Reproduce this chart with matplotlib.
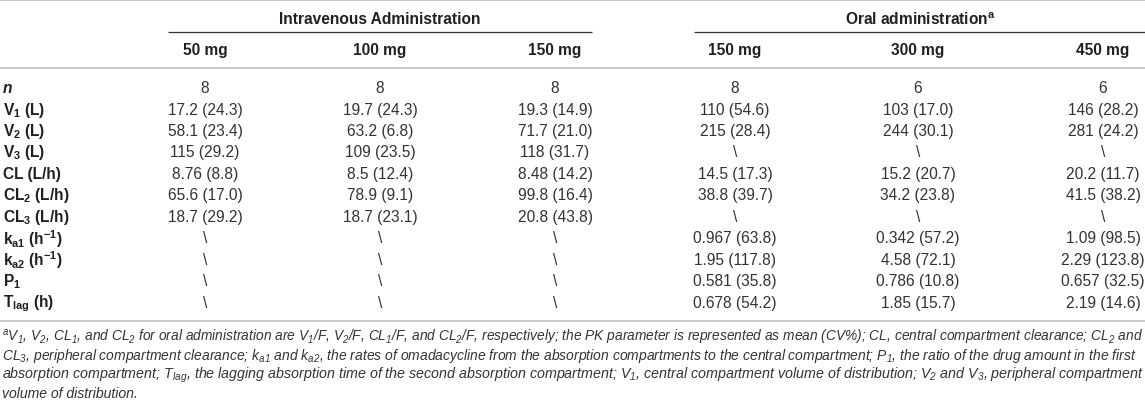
import matplotlib
matplotlib.use("Agg")
import matplotlib.pyplot as plt

plt.rcParams['font.family'] = ['Liberation Sans', 'DejaVu Sans']
plt.rcParams['mathtext.fontset'] = 'custom'
plt.rcParams['mathtext.rm'] = 'Liberation Sans'
plt.rcParams['mathtext.it'] = 'Liberation Sans:italic'
plt.rcParams['mathtext.bf'] = 'Liberation Sans:bold'
plt.rcParams['mathtext.default'] = 'regular'

# ---- data ----
group_titles = ["Intravenous Administration", "Oral administration$^{a}$"]
dose_labels = ["50 mg", "100 mg", "150 mg", "150 mg", "300 mg", "450 mg"]
param_labels = ["n", "V$_1$ (L)", "V$_2$ (L)", "V$_3$ (L)", "CL (L/h)",
                "CL$_2$ (L/h)", "CL$_3$ (L/h)", "k$_{a1}$ (h$^{-1}$)",
                "k$_{a2}$ (h$^{-1}$)", "P$_1$", "T$_{lag}$ (h)"]
NA = "\\"
iv_50 = ["8", "17.2 (24.3)", "58.1 (23.4)", "115 (29.2)", "8.76 (8.8)",
         "65.6 (17.0)", "18.7 (29.2)", NA, NA, NA, NA]
iv_100 = ["8", "19.7 (24.3)", "63.2 (6.8)", "109 (23.5)", "8.5 (12.4)",
          "78.9 (9.1)", "18.7 (23.1)", NA, NA, NA, NA]
iv_150 = ["8", "19.3 (14.9)", "71.7 (21.0)", "118 (31.7)", "8.48 (14.2)",
          "99.8 (16.4)", "20.8 (43.8)", NA, NA, NA, NA]
oral_150 = ["8", "110 (54.6)", "215 (28.4)", NA, "14.5 (17.3)",
            "38.8 (39.7)", NA, "0.967 (63.8)", "1.95 (117.8)",
            "0.581 (35.8)", "0.678 (54.2)"]
oral_300 = ["6", "103 (17.0)", "244 (30.1)", NA, "15.2 (20.7)",
            "34.2 (23.8)", NA, "0.342 (57.2)", "4.58 (72.1)",
            "0.786 (10.8)", "1.85 (15.7)"]
oral_450 = ["6", "146 (28.2)", "281 (24.2)", NA, "20.2 (11.7)",
            "41.5 (38.2)", NA, "1.09 (98.5)", "2.29 (123.8)",
            "0.657 (32.5)", "2.19 (14.6)"]
columns = [iv_50, iv_100, iv_150, oral_150, oral_300, oral_450]

footnote_lines = [
    "$^{a}$$V_1$, $V_2$, $CL_1$, and $CL_2$ for oral administration are $V_1$/F, $V_2$/F, $CL_1$/F, and $CL_2$/F, respectively; the PK parameter is represented as mean (CV%); CL, central compartment clearance; $CL_2$ and",
    "$CL_3$, peripheral compartment clearance; $k_{a1}$ and $k_{a2}$, the rates of omadacycline from the absorption compartments to the central compartment; $P_1$, the ratio of the drug amount in the first",
    "absorption compartment; $T_{lag}$, the lagging absorption time of the second absorption compartment; $V_1$, central compartment volume of distribution; $V_2$ and $V_3$, peripheral compartment",
    "volume of distribution.",
]

# ---- layout ----
W, H = 1145, 406
fig = plt.figure(figsize=(W / 100, H / 100), dpi=100)
ax = fig.add_axes([0, 0, 1, 1])
ax.set_xlim(0, W)
ax.set_ylim(H, 0)
ax.axis('off')

TXT = '#231f20'
BODY = '#333333'
GRAY = '#c8c8c8'
col_x = [205, 380, 555, 735, 918, 1103]
group_x = [380, 920]
group_span = [(168, 592), (694, 1145)]
row_y0, row_dy = 88.5, 21.5
fs_body = 11.2
fs_head = 11.2

def hline(y, x0, x1, color, lw):
    ax.plot([x0, x1], [y, y], color=color, lw=lw, solid_capstyle='butt')

hline(1, 0, W, GRAY, 1.4)
for (x0, x1), gx, gt in zip(group_span, group_x, group_titles):
    ax.text(gx, 20, gt, ha='center', va='center', fontsize=fs_head,
            fontweight='bold', color=TXT)
    hline(33, x0, x1, '#333333', 0.9)
for cx, dl in zip(col_x, dose_labels):
    ax.text(cx, 50, dl, ha='center', va='center', fontsize=fs_head,
            fontweight='bold', color=TXT)
hline(69, 0, W, GRAY, 1.4)

for i, lab in enumerate(param_labels):
    y = row_y0 + i * row_dy
    ax.text(3, y, lab, ha='left', va='center', fontsize=fs_body,
            fontweight='bold', fontstyle='italic' if lab == 'n' else 'normal',
            color=TXT)
    for cx, col in zip(col_x, columns):
        ax.text(cx, y, col[i], ha='center', va='center', fontsize=fs_body,
                color=BODY)

hline(322, 0, W, GRAY, 1.4)

# footnote, each full line fitted to the table width
foot_y = [338, 356, 375, 394]
renderer = fig.canvas.get_renderer()
target = W - 6
sizes = []
texts = []
for line, y in zip(footnote_lines, foot_y):
    t = ax.text(2, y, line, ha='left', va='center', fontsize=9,
                fontstyle='italic', color=BODY)
    texts.append(t)
for k in range(3):
    w = texts[k].get_window_extent(renderer).width
    s = 9 * target / w
    texts[k].set_fontsize(s)
    sizes.append(s)
texts[3].set_fontsize(sum(sizes) / len(sizes))

fig.savefig('out.png', dpi=100)
